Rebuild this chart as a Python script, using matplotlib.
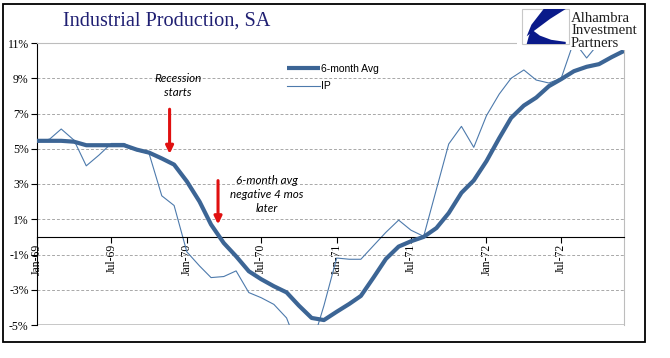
import matplotlib
matplotlib.use("Agg")
import matplotlib.pyplot as plt
import matplotlib.dates as mdates
from matplotlib.patches import Rectangle, Polygon
from matplotlib.ticker import FuncFormatter
import pandas as pd

# monthly, Jan-69 .. Dec-72
months = pd.date_range("1969-01-01", periods=48, freq="MS")

avg6 = [5.45, 5.45, 5.45, 5.4, 5.2, 5.2, 5.2, 5.2, 4.95, 4.78, 4.45, 4.1,
        3.15, 2.0, 0.7, -0.35, -1.1, -1.95, -2.4, -2.8, -3.15, -3.9, -4.6, -4.72,
        -4.25, -3.8, -3.35, -2.3, -1.25, -0.55, -0.25, 0.0, 0.5, 1.35, 2.5, 3.2,
        4.3, 5.6, 6.75, 7.45, 7.9, 8.55, 8.95, 9.4, 9.65, 9.8, 10.2, 10.55]

ip = [5.36, 5.55, 6.12, 5.49, 4.03, 4.64, 5.3, 5.3, 4.89, 4.73, 2.33, 1.78,
      -0.85, -1.65, -2.31, -2.25, -1.93, -3.16, -3.45, -3.83, -4.6, -6.4, -6.2, -3.9,
      -1.2, -1.27, -1.27, -0.49, 0.26, 0.95, 0.38, 0.03, 2.7, 5.27, 6.27, 5.08,
      6.88, 8.1, 9.0, 9.47, 8.9, 8.73, 9.0, 11.1, 10.15, 11.0, 11.4, 11.6]

yticks = [-5, -3, -1, 1, 3, 5, 7, 9, 11]
xticks = pd.date_range("1969-01-01", periods=8, freq="6MS")

serif = ["Liberation Serif", "DejaVu Serif"]
navy_line = "#3c6595"

fig = plt.figure(figsize=(6.7, 3.58), dpi=100)
ax = fig.add_axes([37 / 670, 1 - 325 / 358, (624 - 37) / 670, (325 - 43) / 358])

ax.plot(months, avg6, color=navy_line, lw=3.0, solid_capstyle="butt", label="6-month Avg", zorder=3)
ax.plot(months, ip, color="#4d7aac", lw=0.8, label="IP", zorder=2)

ax.set_xlim(months[0], months[-1])
ax.set_ylim(-5, 11)
ax.set_yticks(yticks)
ax.yaxis.set_major_formatter(FuncFormatter(lambda v, p: "%d%%" % v))
ax.set_xticks(xticks)
ax.xaxis.set_major_formatter(mdates.DateFormatter("%b-%y"))

ax.grid(axis="y", color="#a8a8a8", ls=(0, (3, 2)), lw=0.7)
ax.spines["bottom"].set_position(("data", 0))
ax.spines["bottom"].set_color("black")
ax.spines["left"].set_color("black")
for s in ("top", "right"):
    ax.spines[s].set_color("#bdbdbd")
ax.axhline(-5, color="#bdbdbd", lw=1.2, zorder=1)

ax.tick_params(axis="y", direction="out", length=4, pad=2, labelsize=8.5)
ax.tick_params(axis="x", direction="out", length=4, pad=1, labelsize=8.5, labelrotation=90)
for lab in ax.get_xticklabels() + ax.get_yticklabels():
    lab.set_family(serif)

leg = ax.legend(loc="upper left", bbox_to_anchor=(0.41, 0.96), frameon=False,
                prop={"family": ["Liberation Sans"], "size": 7.5}, handlelength=3.2,
                handletextpad=0.1, labelspacing=0.75)

# annotations
note_font = dict(fontsize=8.4, style="italic", family=["Lato", "DejaVu Sans"])
ax.text(pd.Timestamp("1969-12-10"), 8.6, "Recession\nstarts", ha="center", va="center",
        linespacing=1.4, **note_font)
ax.annotate("", xy=(pd.Timestamp("1969-11-20"), 4.55), xytext=(pd.Timestamp("1969-11-20"), 7.4),
            arrowprops=dict(arrowstyle="-|>,head_width=0.22,head_length=0.45", color="#e01010", lw=2.2))
ax.text(pd.Timestamp("1970-07-15"), 2.4, "6-month avg\nnegative 4 mos\nlater", ha="center", va="center",
        linespacing=1.35, **note_font)
ax.annotate("", xy=(pd.Timestamp("1970-03-18"), 0.55), xytext=(pd.Timestamp("1970-03-18"), 3.35),
            arrowprops=dict(arrowstyle="-|>,head_width=0.22,head_length=0.45", color="#e01010", lw=2.2))

fig.text(167 / 670, 1 - 21 / 358, "Industrial Production, SA", ha="center", va="center",
         fontsize=14.6, color="#1f1f72", family=serif)

# logo
fig.patches.append(Rectangle((517 / 670, 1 - 50 / 358), 126 / 670, 42 / 358, transform=fig.transFigure,
                             facecolor="white", edgecolor="none", zorder=5))
bx, by, bw, bh = 522 / 670, 1 - 44 / 358, 47 / 670, 35 / 358
fig.patches.append(Rectangle((bx, by), bw, bh, transform=fig.transFigure, facecolor="white",
                             edgecolor="#c8c8c8", lw=0.8, zorder=6))
wedge = [(0.46, 1.0), (0.93, 1.0), (0.6, 0.72), (0.3, 0.42), (0.1, 0.22), (0.2, 0.55)]
swoosh = [(0.1, 0.0), (0.93, 0.0), (0.93, 0.06), (0.62, 0.12), (0.38, 0.24), (0.2, 0.42), (0.14, 0.2)]
for shape in (wedge, swoosh):
    fig.patches.append(Polygon([(bx + u * bw, by + v * bh) for u, v in shape], closed=True,
                               transform=fig.transFigure, facecolor="#0a1a8a", edgecolor="none", zorder=7))
for i, word in enumerate(["Alhambra", "Investment", "Partners"]):
    fig.text(571 / 670, 1 - (22 + 12.4 * i) / 358, word, ha="left", va="baseline", fontsize=10.6,
             color="#202020", family=serif, zorder=8)

# outer frame
fig.patches.append(Rectangle((3 / 670, 1 - 342 / 358), 642 / 670, 338 / 358, transform=fig.transFigure,
                             facecolor="none", edgecolor="black", lw=1.3, zorder=9))

fig.savefig("out.png", dpi=100)
